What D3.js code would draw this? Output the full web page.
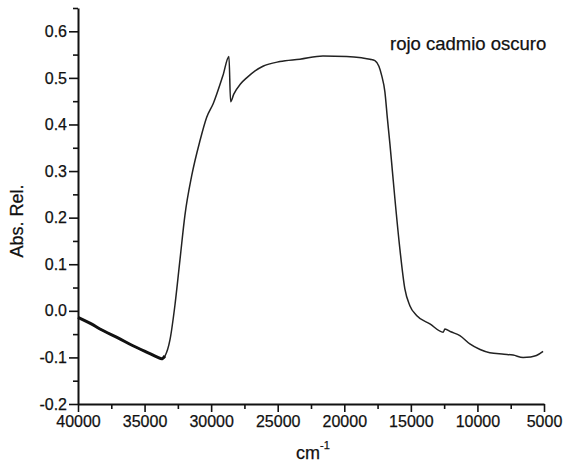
<!DOCTYPE html>
<html>
<head>
<meta charset="utf-8">
<script src="https://cdn.jsdelivr.net/npm/d3@7"></script>
<style>
  body { margin: 0; background: #fff; }
  svg text { font-family: "Liberation Sans", Arial, sans-serif; fill: #111; stroke: #111; stroke-width: 0.25px; }
</style>
</head>
<body>
<div id="chart"></div>
<script>
// spectrum (wavenumber in cm-1, relative absorbance)
var waveNumbers = [40000, 39000, 38350, 37000, 35870, 34600, 34000, 33716, 33470, 33090,
  32720, 32340, 31970, 31460, 30840, 30340, 29840, 29115, 28663, 28540,
  28300, 27800, 27335, 26700, 26110, 24835, 23333, 21600, 19826, 18700,
  18076, 17700, 17400, 17200, 16950, 16763, 16575, 16387, 16200, 15825,
  15450, 15075, 14570, 13570, 12570, 12445, 12000, 11320, 10570, 9800,
  9070, 8000, 7320, 6570, 6000, 5570, 5070];
var absorbance = [-0.014, -0.028, -0.039, -0.058, -0.075, -0.092, -0.100, -0.103, -0.097, -0.062,
  0.012, 0.110, 0.205, 0.290, 0.365, 0.415, 0.445, 0.505, 0.546, 0.449,
  0.465, 0.487, 0.500, 0.515, 0.525, 0.535, 0.540, 0.547, 0.546, 0.543,
  0.540, 0.537, 0.525, 0.506, 0.470, 0.413, 0.359, 0.300, 0.241, 0.133,
  0.047, 0.011, -0.010, -0.028, -0.046, -0.039, -0.045, -0.053, -0.071, -0.083,
  -0.090, -0.093, -0.095, -0.100, -0.099, -0.096, -0.087];

var xTicks = [40000, 35000, 30000, 25000, 20000, 15000, 10000, 5000];
var yTicks = [-0.2, -0.1, 0.0, 0.1, 0.2, 0.3, 0.4, 0.5, 0.6];
var seriesLabel = "rojo cadmio oscuro";

var svgWidth = 564;
var svgHeight = 465;
var margin = { top: 8, right: 20, bottom: 61, left: 78 };
var width = 544 - margin.left;
var height = 404 - margin.top;

var data = waveNumbers.map(function(w, i) { return { x: w, y: absorbance[i] }; });

var svg = d3.select("#chart")
  .append("svg")
  .attr("width", svgWidth)
  .attr("height", svgHeight);

var g = svg.append("g")
  .attr("transform", `translate(${margin.left}, ${margin.top})`);

var xScale = d3.scaleLinear()
  .domain([40000, 5000])
  .range([0, width]);

var yScale = d3.scaleLinear()
  .domain([-0.2, 0.65])
  .range([height, 0]);

// minor ticks first, majors on top
var xMinor = d3.range(37500, 5000, -5000);
var yMinor = d3.range(-0.15, 0.66, 0.1);

g.append("g")
  .attr("transform", `translate(0, ${height})`)
  .call(d3.axisBottom(xScale).tickValues(xMinor).tickSize(5).tickFormat(""))
  .call(a => a.select(".domain").remove());

g.append("g")
  .call(d3.axisLeft(yScale).tickValues(yMinor).tickSize(5).tickFormat(""))
  .call(a => a.select(".domain").remove());

var xAxis = g.append("g")
  .attr("transform", `translate(0, ${height})`)
  .call(d3.axisBottom(xScale).tickValues(xTicks).tickSize(8).tickPadding(4).tickSizeOuter(0).tickFormat(d3.format("d")));

// plain hyphen for negatives, like the original
var yAxis = g.append("g")
  .call(d3.axisLeft(yScale).tickValues(yTicks).tickSize(9).tickPadding(2).tickSizeOuter(0)
    .tickFormat(d => d.toFixed(1)));

g.selectAll(".tick line").attr("stroke", "#111").attr("stroke-width", 1.6);
g.selectAll(".domain").attr("stroke", "#111").attr("stroke-width", 2);
xAxis.selectAll("text").attr("font-size", "16px").attr("fill", "#111");
yAxis.selectAll("text").attr("font-size", "16px").attr("fill", "#111");

var line = d3.line()
  .x(d => xScale(d.x))
  .y(d => yScale(d.y))
  .curve(d3.curveMonotoneX);

g.append("path")
  .datum(data)
  .attr("fill", "none")
  .attr("stroke", "#222")
  .attr("stroke-width", 1.5)
  .attr("stroke-linejoin", "round")
  .attr("d", line);

// the noisy start of the scan reads as a thicker trace
g.append("path")
  .datum(data.filter(d => d.x >= 33470))
  .attr("fill", "none")
  .attr("stroke", "#111")
  .attr("stroke-width", 3)
  .attr("stroke-linejoin", "round")
  .attr("d", line);

// series label
g.append("text")
  .attr("x", 390 - margin.left)
  .attr("y", 50 - margin.top)
  .attr("font-size", "18.5px")
  .text(seriesLabel);

// axis titles
svg.append("text")
  .attr("transform", "rotate(-90)")
  .attr("x", -221)
  .attr("y", 23)
  .attr("text-anchor", "middle")
  .attr("font-size", "18px")
  .text("Abs. Rel.");

var xTitle = svg.append("text")
  .attr("x", 296)
  .attr("y", 459)
  .attr("font-size", "18px");
xTitle.append("tspan").text("cm");
xTitle.append("tspan").attr("dy", -10).attr("font-size", "11px").text("-1");
</script>
</body>
</html>
